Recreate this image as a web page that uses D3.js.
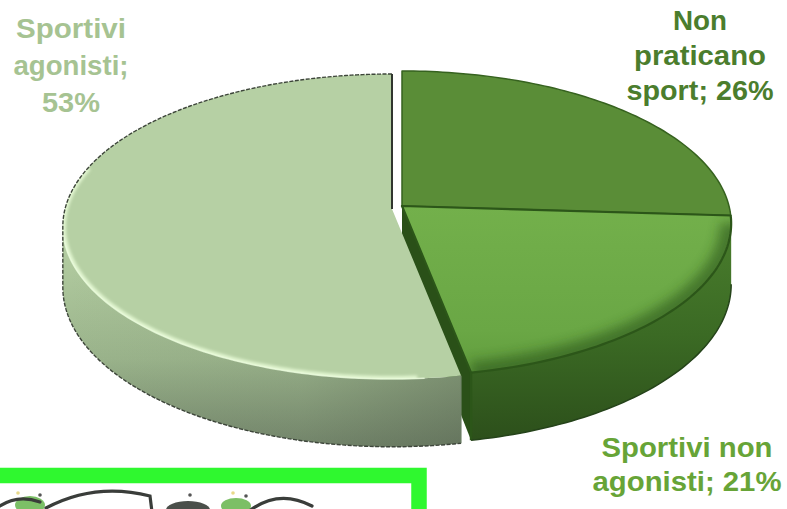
<!DOCTYPE html>
<html>
<head>
<meta charset="utf-8">
<script src="https://cdn.jsdelivr.net/npm/d3@7/dist/d3.min.js"></script>
<style>
  html, body { margin: 0; padding: 0; background: #ffffff; }
  svg { display: block; }
</style>
</head>
<body>
<script>
// ---- data ----
const categories = ["Non praticano sport", "Sportivi non agonisti", "Sportivi agonisti"];
const values = [26, 21, 53];
// label wording, split over lines; the percentage is appended from `values`
const labelHeads = [["Non", "praticano", "sport;"], ["Sportivi non", "agonisti;"], ["Sportivi", "agonisti;"]];
const valueOnNewLine = [false, false, true];

// ---- layout ----
const W = 787, H = 509;
const svg = d3.select("body").append("svg").attr("width", W).attr("height", H);
const defs = svg.append("defs");

// perspective projection of the disc: centre, radii, depth factor, thickness
const cx = 397, cy = 209, A = 150.5, B = 0.1147, C = 327, T = 60;

function P(theta, r, level, off) {
  const u = r * Math.sin(theta), v = -r * Math.cos(theta);
  const den = 1 - B * v;
  return [cx + off.dx + C * u / den, cy + off.dy + (A * v + level * T) / den];
}
function arcPts(a0, a1, level, off) {
  const n = Math.max(2, Math.ceil(Math.abs(a1 - a0) / 0.02));
  return d3.range(n + 1).map(i => P(a0 + (a1 - a0) * i / n, 1, level, off));
}
const line = d3.line();
const TAN_R = Math.acos(-B), TAN_L = 2 * Math.PI - Math.acos(-B); // silhouette angles

const arcs = d3.pie().sort(null).value(d => d)(values);

const styles = [
  { top: "#5a8d37", wall: "url(#wall0)", off: { dx: 5, dy: -3 }, edge: "#36621f", label: "#4b7d2d" },
  { top: "url(#top1)", wall: "url(#wall1)", off: { dx: 5, dy: -3 }, edge: "#2c5619", label: "#67a437" },
  { top: "#b6d0a4", wall: "url(#wall2)", off: { dx: -5, dy: 0 }, edge: "#3d453a", label: "#a6c392" }
];

// gradients
function vGrad(id, y1, y2, stops) {
  const g = defs.append("linearGradient").attr("id", id).attr("gradientUnits", "userSpaceOnUse")
    .attr("x1", 0).attr("x2", 0).attr("y1", y1).attr("y2", y2);
  stops.forEach(([o, c]) => g.append("stop").attr("offset", o).attr("stop-color", c));
}
vGrad("wall0", 200, 280, [[0, "#3f6d25"], [1, "#2d501a"]]);
vGrad("top1", 205, 385, [[0, "#73b04b"], [0.7, "#6aa745"], [1, "#5f9a3c"]]);
vGrad("wall1", 220, 450, [[0, "#4a7e2d"], [0.5, "#3b6a24"], [1, "#2b4d1a"]]);
vGrad("wall2", 245, 452, [[0, "#b3cda1"], [0.55, "#9ab38b"], [1, "#72846a"]]);
const hg = defs.append("linearGradient").attr("id", "wall2shade").attr("gradientUnits", "userSpaceOnUse")
  .attr("x1", 60).attr("x2", 465).attr("y1", 0).attr("y2", 0);
hg.append("stop").attr("offset", 0).attr("stop-color", "#404a3c").attr("stop-opacity", 0);
hg.append("stop").attr("offset", 0.6).attr("stop-color", "#404a3c").attr("stop-opacity", 0.05);
hg.append("stop").attr("offset", 1).attr("stop-color", "#404a3c").attr("stop-opacity", 0.3);

defs.append("filter").attr("id", "soft").attr("x", "-20%").attr("y", "-20%").attr("width", "140%").attr("height", "140%")
  .append("feGaussianBlur").attr("stdDeviation", 1.6);
defs.append("filter").attr("id", "softer").attr("x", "-20%").attr("y", "-20%").attr("width", "140%").attr("height", "140%")
  .append("feGaussianBlur").attr("stdDeviation", 6);

function topPath(d, off) {
  const v = P(0, 0, 0, off);
  return line([v, ...arcPts(d.startAngle, d.endAngle, 0, off)]) + "Z";
}
function wallPath(a0, a1, off) {
  return line([...arcPts(a0, a1, 0, off), ...arcPts(a1, a0, 1, off)]) + "Z";
}
function cutFace(a, off) {
  return line([P(a, 0, 0, off), P(a, 1, 0, off), P(a, 1, 1, off), P(a, 0, 1, off)]) + "Z";
}

arcs.forEach((d, i) => {
  defs.append("clipPath").attr("id", "clipTop" + i).append("path").attr("d", topPath(d, styles[i].off));
});

const pieG = svg.append("g");

// back-right slice
{
  const d = arcs[0], s = styles[0];
  pieG.append("path").attr("d", topPath(d, s.off)).attr("fill", s.top)
    .attr("stroke", s.edge).attr("stroke-width", 1.5).attr("stroke-linejoin", "round");
}

// cut face of the front-right slice, seen through the gap
{
  const d = arcs[1], s = styles[1];
  pieG.append("path").attr("d", cutFace(d.endAngle, s.off)).attr("fill", "#2a5018");
}

// large left slice
{
  const d = arcs[2], s = styles[2];
  const a0 = d.startAngle, a1 = Math.min(d.endAngle, TAN_L);
  pieG.append("path").attr("d", wallPath(a0, a1, s.off)).attr("fill", s.wall);
  pieG.append("path").attr("d", wallPath(a0, a1, s.off)).attr("fill", "url(#wall2shade)");
  pieG.append("path").attr("d", topPath(d, s.off)).attr("fill", s.top);
  // rim highlight along the front edge
  pieG.append("g").attr("clip-path", "url(#clipTop2)")
    .append("path").attr("d", line(arcPts(a0 + 0.12, 5.0, 0, s.off)))
    .attr("fill", "none").attr("stroke", "#e3f7d2").attr("stroke-width", 6).attr("filter", "url(#soft)");
  pieG.append("path").attr("d", line(arcPts(a0 + 0.1, a1, 0, s.off)))
    .attr("fill", "none").attr("stroke", "#eafbdc").attr("stroke-width", 1.6).attr("opacity", 0.8);
  // silhouette
  const tl = [P(a1, 1, 0, s.off), P(a1, 1, 1, s.off)];
  pieG.append("path").attr("d", line([...arcPts(d.endAngle, a1, 0, s.off), ...tl, ...arcPts(a1, a0, 1, s.off)]))
    .attr("fill", "none").attr("stroke", s.edge).attr("stroke-width", 1.4).attr("stroke-dasharray", "4 1.5");
  pieG.append("path").attr("d", line([P(a0, 1, 1, s.off), P(a0, 1, 0, s.off)]))
    .attr("stroke", "#6f8368").attr("stroke-width", 1);
  pieG.append("path").attr("d", line([P(0, 0, 0, s.off), P(0, 1, 0, s.off)]))
    .attr("stroke", "#30362e").attr("stroke-width", 2);
}

// front-right slice
{
  const d = arcs[1], s = styles[1];
  const a0 = Math.max(d.startAngle, TAN_R), a1 = d.endAngle;
  pieG.append("path").attr("d", wallPath(a0, a1, s.off)).attr("fill", s.wall);
  pieG.append("path").attr("d", topPath(d, s.off)).attr("fill", s.top);
  // soft shading toward the front rim
  pieG.append("g").attr("clip-path", "url(#clipTop1)")
    .append("path").attr("d", line(arcPts(d.startAngle + 0.05, d.endAngle, 0, s.off)))
    .attr("fill", "none").attr("stroke", "#2f5a1c").attr("stroke-width", 22).attr("opacity", 0.65)
    .attr("filter", "url(#softer)");
  pieG.append("path").attr("d", topPath(d, s.off)).attr("fill", "none")
    .attr("stroke", s.edge).attr("stroke-width", 2.2).attr("stroke-linejoin", "round");
  pieG.append("path").attr("d", line([P(a1, 1, 0, s.off), P(a1, 1, 1, s.off)]))
    .attr("stroke", s.edge).attr("stroke-width", 2.5);
  pieG.append("path").attr("d", line(arcPts(a0, a1, 1, s.off)))
    .attr("fill", "none").attr("stroke", "#25431a").attr("stroke-width", 1.5);
}

// ---- labels ----
const labelPos = [
  { x: 700, y: 30, dy: 35, widths: [54, 132, 147] },
  { x: 687, y: 457, dy: 34, widths: [171, 189] },
  { x: 71, y: 38, dy: 37, widths: [110, 115, 58] }
];
values.forEach((v, i) => {
  const lines = labelHeads[i].slice();
  if (valueOnNewLine[i]) lines.push(v + "%");
  else lines[lines.length - 1] += " " + v + "%";
  const pos = labelPos[i];
  const t = svg.append("text")
    .attr("font-family", "'Liberation Sans Narrow', 'Arial Narrow', 'Liberation Sans', Arial, sans-serif")
    .attr("font-weight", "bold").attr("font-size", 27).attr("fill", styles[i].label)
    .attr("text-anchor", "middle");
  lines.forEach((ln, j) => {
    t.append("tspan").attr("x", pos.x).attr("y", pos.y + j * pos.dy)
      .attr("textLength", pos.widths[j]).attr("lengthAdjust", "spacingAndGlyphs").text(ln);
  });
});

// ---- framed illustration at the bottom left ----
const frame = svg.append("g");
defs.append("clipPath").attr("id", "frameClip").append("rect").attr("x", 0).attr("y", 483).attr("width", 411).attr("height", 30);
const art = frame.append("g").attr("clip-path", "url(#frameClip)");
art.append("rect").attr("x", 0).attr("y", 483).attr("width", 411).attr("height", 30).attr("fill", "#ffffff");
art.append("ellipse").attr("cx", 30).attr("cy", 505).attr("rx", 15).attr("ry", 9).attr("fill", "#7cbf66");
art.append("ellipse").attr("cx", 236).attr("cy", 506).attr("rx", 15).attr("ry", 8).attr("fill", "#7cbf66");
art.append("ellipse").attr("cx", 188).attr("cy", 510).attr("rx", 22).attr("ry", 9).attr("fill", "#4a4f4a");
art.append("path").attr("d", "M0,506 Q18,494 40,502 M46,508 Q95,482 150,496 L152,512 M248,512 Q278,488 312,506")
  .attr("fill", "none").attr("stroke", "#3a3d3a").attr("stroke-width", 3.2).attr("stroke-linecap", "round");
[[18, 493, "#e8d98a"], [40, 495, "#555"], [190, 495, "#555"], [233, 493, "#e8d98a"], [246, 496, "#555"]].forEach(([x, y, c]) =>
  art.append("circle").attr("cx", x).attr("cy", y).attr("r", 1.8).attr("fill", c));
frame.append("rect").attr("x", -20).attr("y", 475.5).attr("width", 439).attr("height", 70)
  .attr("fill", "none").attr("stroke", "#2ff82f").attr("stroke-width", 15.5);
</script>
</body>
</html>
